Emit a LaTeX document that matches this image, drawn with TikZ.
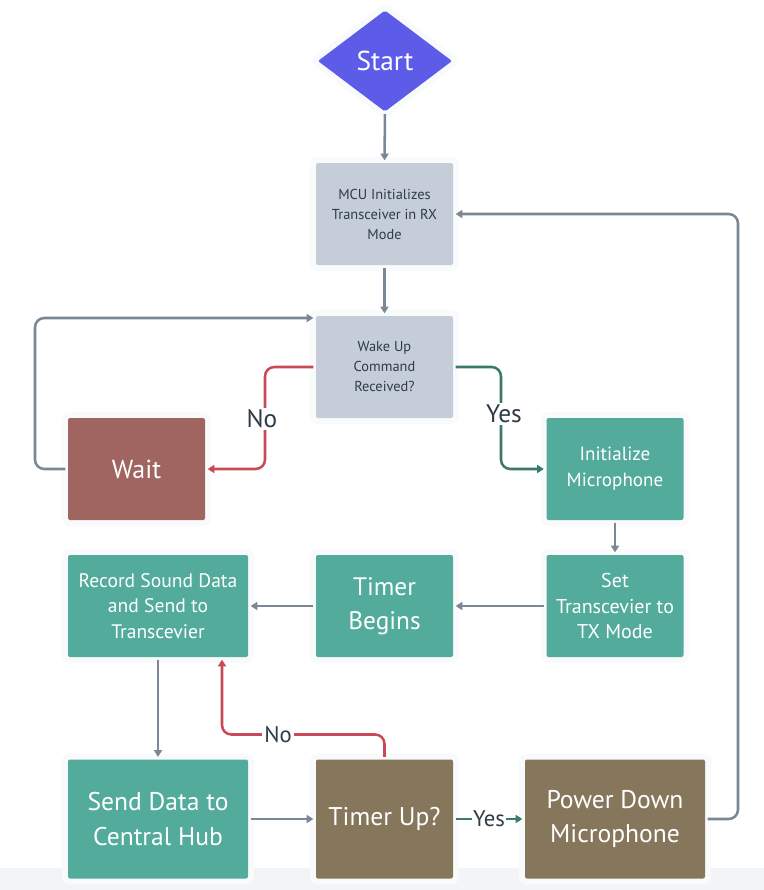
\documentclass[tikz,border=0pt]{standalone}
\usepackage{fontspec}
\setmainfont{PT Sans}
\usetikzlibrary{shapes.geometric,arrows.meta,calc}

\definecolor{startc}{HTML}{5C5CE8}
\definecolor{grayc}{HTML}{C5CED8}
\definecolor{waitc}{HTML}{A06461}
\definecolor{tealc}{HTML}{52AB9B}
\definecolor{brownc}{HTML}{86765C}
\definecolor{linec}{HTML}{7B8794}
\definecolor{redc}{HTML}{C94A57}
\definecolor{greenc}{HTML}{3A7A6A}
\definecolor{textc}{HTML}{2F3B46}
\definecolor{haloc}{HTML}{F9FAFB}
\definecolor{bandc}{HTML}{F3F4F5}

\begin{document}
\begin{tikzpicture}[x=0.75pt,y=-0.75pt,
  halo/.style={preaction={draw=haloc,line width=9pt,rounded corners=5pt}},
  box/.style={rectangle,rounded corners=1.5pt,halo,inner sep=2pt,outer sep=0pt,
    align=center,minimum width=102.75pt,minimum height=76.5pt},
  graybox/.style={box,fill=grayc,text=textc,font=\fontsize{10.8pt}{15pt}\selectfont},
  waitbox/.style={box,fill=waitc,text=white,font=\fontsize{19.5pt}{22pt}\selectfont},
  tealbox/.style={box,fill=tealc,text=white},
  brownbox/.style={box,fill=brownc,text=white},
  wide/.style={minimum width=135pt},
  tall/.style={minimum height=89.25pt},
  startshape/.style={diamond,fill=startc,text=white,halo,inner sep=0pt,outer sep=0pt,
    minimum width=100.5pt,minimum height=75.75pt,rounded corners=1.5pt,
    font=\fontsize{20.5pt}{22pt}\selectfont},
  conn/.style={line width=1.9pt,line cap=butt,rounded corners=7pt,
    -{Triangle[length=5pt,width=6pt]},shorten >=2pt,shorten <=2pt},
  grayline/.style={conn,draw=linec},
  redline/.style={conn,draw=redc},
  greenline/.style={conn,draw=greenc},
  lab/.style={fill=white,text=textc,inner sep=1.5pt,font=\fontsize{19pt}{20pt}\selectfont}
]
\useasboundingbox (0,0) rectangle (764,890);
\fill[bandc] (0,868) rectangle (764,890);

% process steps
\node[startshape] (start) at (385,61) {Start};
\node[graybox] (mcu) at (384.5,214) {MCU Initializes\\Transceiver in RX\\Mode};
\node[graybox] (wake) at (384.5,367) {Wake Up\\Command\\Received?};
\node[waitbox] (wait) at (136.5,469) {Wait};
\node[tealbox,font=\fontsize{14.3pt}{19.5pt}\selectfont] (mic) at (615,469) {Initialize\\Microphone};
\node[tealbox,font=\fontsize{15pt}{19.3pt}\selectfont] (tx) at (615,606) {Set\\Transcevier to\\TX Mode};
\node[tealbox,font=\fontsize{19pt}{25.5pt}\selectfont] (timer) at (384.5,606) {Timer\\Begins};
\node[tealbox,wide,font=\fontsize{14.7pt}{19pt}\selectfont] (rec) at (158,606) {Record Sound Data\\and Send to\\Transcevier};
\node[tealbox,wide,tall,font=\fontsize{19.2pt}{26pt}\selectfont] (send) at (158,819) {Send Data to\\Central Hub};
\node[brownbox,tall,font=\fontsize{19.2pt}{26pt}\selectfont] (up) at (384.5,819) {Timer Up?};
\node[brownbox,wide,tall,font=\fontsize{19.2pt}{26pt}\selectfont] (pwr) at (615,819) {Power Down\\Microphone};

% connectors
\draw[grayline] (start.south) -- (mcu.north);
\draw[grayline] (mcu.south) -- (wake.north);
\draw[redline] (wake.west) -- ++(-51,0) |- (wait.east);
\node[lab] (nowake) at (262,419) {No};
\draw[greenline] (wake.east) -- ++(48,0) |- (mic.west);
\node[lab] (yeswake) at (504,414) {Yes};
\draw[grayline] (wait.west) -- ++(-33,0) |- ($(wake.north west)+(0,2)$);
\draw[grayline] (mic.south) -- (tx.north);
\draw[grayline] (tx.west) -- (timer.east);
\draw[grayline] (timer.west) -- (rec.east);
\draw[grayline] (rec.south) -- (send.north);
\draw[grayline] (send.east) -- (up.west);
\draw[redline] (up.north) -- ++(0,-25) -| ($(rec.south)+(64,0)$);
\node[lab,font=\fontsize{17pt}{20pt}\selectfont] (noup) at (278,735) {No};
\draw[greenline] (up.east) -- (pwr.west);
\node[lab,inner sep=0.8pt,font=\fontsize{17pt}{20pt}\selectfont] (yesup) at (489,819) {Yes};
\draw[grayline] (pwr.east) -- ++(33,0) |- (mcu.east);
\end{tikzpicture}
\end{document}
